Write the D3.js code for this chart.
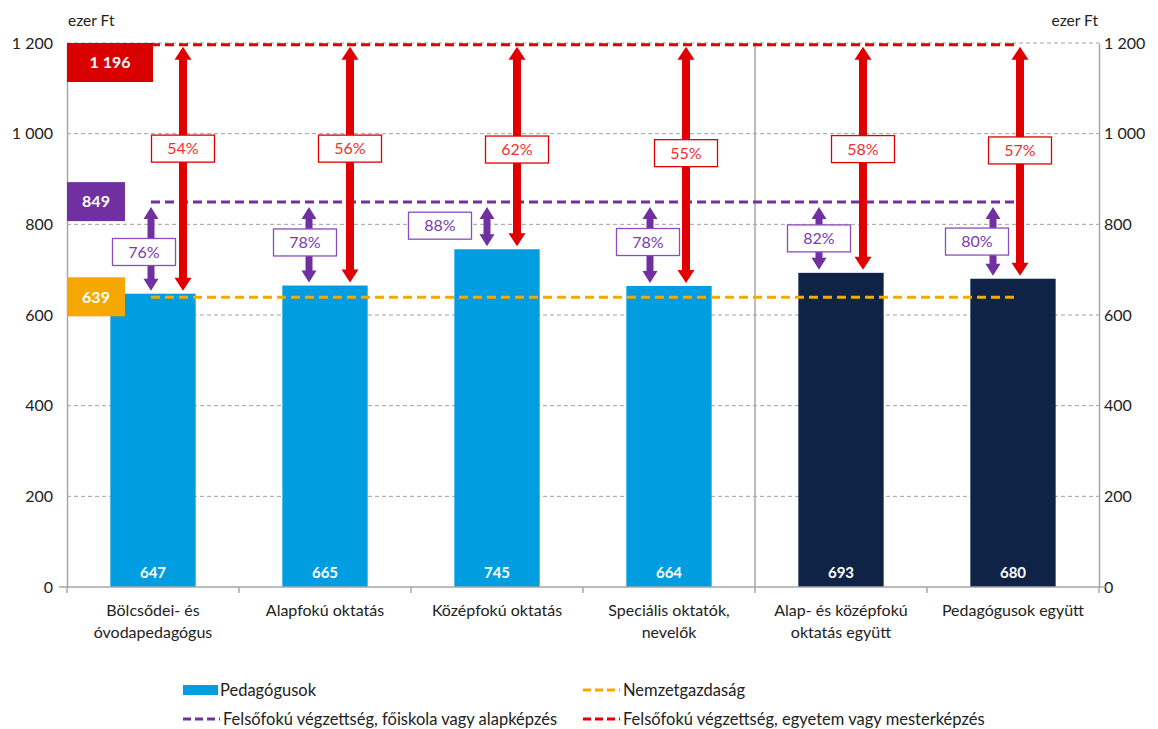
<!DOCTYPE html>
<html>
<head>
<meta charset="utf-8">
<script src="https://cdn.jsdelivr.net/npm/d3@7"></script>
<style>
  body { margin: 0; background: #fff; }
  text { font-family: Lato, "Open Sans", sans-serif; }
</style>
</head>
<body>
<svg id="chart" width="1158" height="729"></svg>
<script>
// data
const categories = [
  ["Bölcsődei- és", "óvodapedagógus"],
  ["Alapfokú oktatás"],
  ["Középfokú oktatás"],
  ["Speciális oktatók,", "nevelők"],
  ["Alap- és középfokú", "oktatás együtt"],
  ["Pedagógusok együtt"]
];
const salaries = [647, 665, 745, 664, 693, 680];
const isAggregate = [false, false, false, false, true, true];
const nationalValue = 639;
const collegeValue = 849;
const universityValue = 1196;
const collegePct = ["76%", "78%", "88%", "78%", "82%", "80%"];
const universityPct = ["54%", "56%", "62%", "55%", "58%", "57%"];
const yTicks = [0, 200, 400, 600, 800, 1000, 1200];
const legendItems = [
  { label: "Pedagógusok", type: "bar", color: "#009ee0" },
  { label: "Nemzetgazdaság", type: "line", color: "#f5a800" },
  { label: "Felsőfokú végzettség, főiskola vagy alapképzés", type: "line", color: "#7030a0" },
  { label: "Felsőfokú végzettség, egyetem vagy mesterképzés", type: "line", color: "#e00000" }
];

// annotation layout (pixel offsets from band centre, label heights in axis units)
const purpleArrowDx = [-2, -16, -10, -19, -22, -20];
const redArrowDx = [30, 25, 20, 17, 22, 7];
const purpleLabelDx = [-9, -20, -57, -21, -22, -36];
const purpleLabelAt = [739, 760, 797, 761, 769, 762];
const redLabelAt = [967, 967, 965, 957, 966, 963];

const colors = {
  bar: "#009ee0",
  barTotal: "#0f2346",
  orange: "#f5a800",
  purple: "#7030a0",
  red: "#e00000",
  grid: "#a0a0a0",
  axis: "#a6a6a6",
  text: "#222"
};

const margin = { top: 43, left: 67, right: 1099, bottom: 587 };
const svg = d3.select("#chart");

const x = d3.scaleBand()
  .domain(d3.range(categories.length))
  .range([margin.left, margin.right])
  .padding(0);

const y = d3.scaleLinear().domain([0, 1200]).range([margin.bottom, margin.top]);
const cx = function (i) { return x(i) + x.bandwidth() / 2; };

// gridlines
svg.append("g")
  .selectAll("line")
  .data(yTicks.filter(function (d) { return d > 0; }))
  .enter()
  .append("line")
  .attr("x1", margin.left)
  .attr("x2", margin.right)
  .attr("y1", function (d) { return y(d); })
  .attr("y2", function (d) { return y(d); })
  .attr("stroke", colors.grid)
  .attr("stroke-width", 1)
  .attr("stroke-dasharray", "4,3");

// axes
const fmt = function (d) { return d3.format(",")(d).replace(",", " "); };
const leftAxis = d3.axisLeft(y).tickValues(yTicks).tickSize(0).tickPadding(14).tickFormat(fmt);
const rightAxis = d3.axisRight(y).tickValues(yTicks).tickSize(0).tickPadding(5).tickFormat(fmt);

const gl = svg.append("g").attr("transform", "translate(" + margin.left + ",0)").call(leftAxis);
const gr = svg.append("g").attr("transform", "translate(" + margin.right + ",0)").call(rightAxis);
[gl, gr].forEach(function (g) {
  g.select(".domain").attr("stroke", colors.axis).attr("stroke-width", 1.5);
  g.selectAll("text").attr("font-size", 16).attr("fill", colors.text)
    .style("font-family", "Lato, sans-serif");
});

// separator between single groups and aggregates
svg.append("line")
  .attr("x1", x(4)).attr("x2", x(4))
  .attr("y1", margin.top).attr("y2", margin.bottom)
  .attr("stroke", colors.axis).attr("stroke-width", 1.5);

// bars
svg.append("g")
  .selectAll("rect")
  .data(salaries)
  .enter()
  .append("rect")
  .attr("x", function (d, i) { return cx(i) - x.bandwidth() * 0.248; })
  .attr("width", x.bandwidth() * 0.496)
  .attr("y", function (d) { return y(d); })
  .attr("height", function (d) { return y(0) - y(d); })
  .attr("fill", function (d, i) { return isAggregate[i] ? colors.barTotal : colors.bar; });

svg.append("g")
  .selectAll("text")
  .data(salaries)
  .enter()
  .append("text")
  .attr("x", function (d, i) { return cx(i); })
  .attr("y", y(0) - 9)
  .attr("text-anchor", "middle")
  .attr("font-size", 15)
  .attr("font-weight", "bold")
  .attr("fill", "#fff")
  .text(function (d) { return d; });

// x axis with ticks at band edges
svg.append("line")
  .attr("x1", margin.left - 8).attr("x2", margin.right + 8)
  .attr("y1", y(0)).attr("y2", y(0))
  .attr("stroke", colors.axis).attr("stroke-width", 1.5);
svg.append("g")
  .selectAll("line")
  .data(d3.range(categories.length + 1))
  .enter()
  .append("line")
  .attr("x1", function (d) { return margin.left + d * x.bandwidth(); })
  .attr("x2", function (d) { return margin.left + d * x.bandwidth(); })
  .attr("y1", y(0)).attr("y2", y(0) + 6)
  .attr("stroke", colors.axis).attr("stroke-width", 1.5);

const catLabels = svg.append("g")
  .selectAll("text")
  .data(categories)
  .enter()
  .append("text")
  .attr("x", function (d, i) { return cx(i); })
  .attr("y", 616)
  .attr("text-anchor", "middle")
  .attr("font-size", 16)
  .attr("fill", colors.text);
catLabels.selectAll("tspan")
  .data(function (d, i) { return d.map(function (t) { return { t: t, i: i }; }); })
  .enter()
  .append("tspan")
  .attr("x", function (d) { return cx(d.i); })
  .attr("dy", function (d, j) { return j === 0 ? 0 : 22; })
  .text(function (d) { return d.t; });

// reference dashed lines
const refLines = [
  { v: nationalValue, color: colors.orange },
  { v: collegeValue, color: colors.purple },
  { v: universityValue, color: colors.red }
];
svg.append("g")
  .selectAll("line")
  .data(refLines)
  .enter()
  .append("line")
  .attr("x1", cx(0) - 2)
  .attr("x2", cx(categories.length - 1) + 2)
  .attr("y1", function (d) { return y(d.v); })
  .attr("y2", function (d) { return y(d.v); })
  .attr("stroke", function (d) { return d.color; })
  .attr("stroke-width", 3)
  .attr("stroke-dasharray", "9,5");

// double-headed arrows
function arrowPath(xc, y1, y2, shaft, headW, headL) {
  const s = shaft / 2, h = headW / 2;
  return "M" + xc + "," + y1 +
    "L" + (xc + h) + "," + (y1 + headL) +
    "L" + (xc + s) + "," + (y1 + headL) +
    "L" + (xc + s) + "," + (y2 - headL) +
    "L" + (xc + h) + "," + (y2 - headL) +
    "L" + xc + "," + y2 +
    "L" + (xc - h) + "," + (y2 - headL) +
    "L" + (xc - s) + "," + (y2 - headL) +
    "L" + (xc - s) + "," + (y1 + headL) +
    "L" + (xc - h) + "," + (y1 + headL) + "Z";
}

svg.append("g")
  .selectAll("path")
  .data(salaries)
  .enter()
  .append("path")
  .attr("d", function (d, i) {
    return arrowPath(cx(i) + redArrowDx[i], y(universityValue) + 2, y(d) - 3, 8, 17, 13);
  })
  .attr("fill", colors.red);

svg.append("g")
  .selectAll("path")
  .data(salaries)
  .enter()
  .append("path")
  .attr("d", function (d, i) {
    return arrowPath(cx(i) + purpleArrowDx[i], y(collegeValue) + 5, y(d) - 3, 7, 15, 12);
  })
  .attr("fill", colors.purple);

// percentage boxes
function pctBoxes(labels, xs, ys, color, textColor) {
  const g = svg.append("g")
    .selectAll("g")
    .data(labels)
    .enter()
    .append("g")
    .attr("transform", function (d, i) { return "translate(" + xs(i) + "," + y(ys[i]) + ")"; });
  g.append("rect")
    .attr("x", -31.5).attr("y", -13.5)
    .attr("width", 63).attr("height", 27)
    .attr("fill", "#fff")
    .attr("stroke", color)
    .attr("stroke-width", 1.3);
  g.append("text")
    .attr("text-anchor", "middle")
    .attr("dy", "0.36em")
    .attr("font-size", 16)
    .attr("fill", textColor)
    .text(function (d) { return d; });
}
pctBoxes(universityPct, function (i) { return cx(i) + redArrowDx[i]; }, redLabelAt, colors.red, "#f03030");
pctBoxes(collegePct, function (i) { return cx(i) + purpleLabelDx[i]; }, purpleLabelAt, "#8a4cc0", "#7a3ab0");

// value boxes on the left
const valueBoxes = [
  { v: universityValue, text: "1 196", color: "#d90000", w: 86, top: y(1200) },
  { v: collegeValue, text: "849", color: colors.purple, w: 58, top: y(collegeValue) - 20 },
  { v: nationalValue, text: "639", color: colors.orange, w: 58, top: y(nationalValue) - 20 }
];
const vb = svg.append("g")
  .selectAll("g")
  .data(valueBoxes)
  .enter()
  .append("g");
vb.append("rect")
  .attr("x", margin.left)
  .attr("y", function (d) { return d.top; })
  .attr("width", function (d) { return d.w; })
  .attr("height", 39)
  .attr("fill", function (d) { return d.color; });
vb.append("text")
  .attr("x", function (d) { return margin.left + d.w / 2; })
  .attr("y", function (d) { return d.top + 19.5; })
  .attr("dy", "0.36em")
  .attr("text-anchor", "middle")
  .attr("font-size", 16)
  .attr("font-weight", "bold")
  .attr("fill", "#fff")
  .text(function (d) { return d.text; });

// unit labels
svg.append("text").attr("x", 68).attr("y", 26).attr("font-size", 15.5)
  .attr("fill", colors.text).text("ezer Ft");
svg.append("text").attr("x", 1098).attr("y", 26).attr("font-size", 15.5)
  .attr("text-anchor", "end").attr("fill", colors.text).text("ezer Ft");

// legend
const legendPos = [[183, 690], [583, 690], [183, 719], [583, 719]];
const lg = svg.append("g")
  .selectAll("g")
  .data(legendItems)
  .enter()
  .append("g")
  .attr("transform", function (d, i) { return "translate(" + legendPos[i][0] + "," + legendPos[i][1] + ")"; });
lg.filter(function (d) { return d.type === "bar"; })
  .append("rect")
  .attr("x", 0).attr("y", -5).attr("width", 35).attr("height", 10)
  .attr("fill", function (d) { return d.color; });
lg.filter(function (d) { return d.type === "line"; })
  .append("line")
  .attr("x1", 0).attr("x2", 37).attr("y1", 0).attr("y2", 0)
  .attr("stroke", function (d) { return d.color; })
  .attr("stroke-width", 3)
  .attr("stroke-dasharray", "8,4");
lg.append("text")
  .attr("x", function (d) { return d.type === "bar" ? 37 : 40; })
  .attr("dy", "0.35em")
  .attr("font-size", 16.5)
  .attr("fill", colors.text)
  .text(function (d) { return d.label; });
</script>
</body>
</html>
